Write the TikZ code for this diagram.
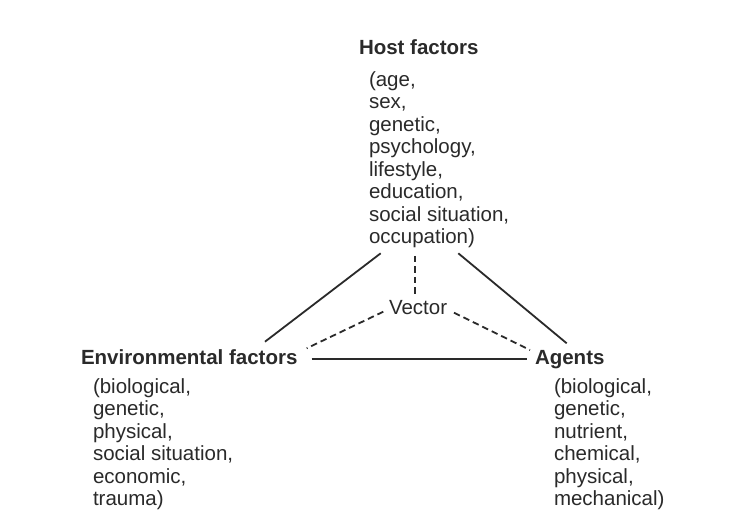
\documentclass[tikz,border=0pt]{standalone}
\usepackage{fontspec}
\setmainfont{Liberation Sans}
\definecolor{inkc}{HTML}{2A2A2A}
\begin{document}
\begin{tikzpicture}[x=1pt,y=-1pt,
  txt/.style={inner sep=0pt, outer sep=0pt, anchor=base west, align=left, text=inkc,
    font=\fontsize{20.5}{22.5}\selectfont},
  ttl/.style={txt, font=\fontsize{20.5}{22.5}\selectfont\bfseries},
  link/.style={draw=inkc, line width=1.8pt},
  dlink/.style={draw=inkc, line width=1.8pt, dash pattern=on 6.5pt off 4pt}]
\useasboundingbox[fill=white] (0,0) rectangle (740,513);
% titles
\node[ttl] (host) at (359,55) {Host factors};
\node[ttl] (env) at (81,365) {Environmental factors};
\node[ttl] (agents) at (535,365) {Agents};
\node[txt] (vector) at (389,315) {Vector};
% lists (anchor = baseline of last line)
\node[txt] (hostlist) at (369,244) {(age,\\sex,\\genetic,\\psychology,\\lifestyle,\\education,\\social situation,\\occupation)};
\node[txt] (envlist) at (93,505.5) {(biological,\\genetic,\\physical,\\social situation,\\economic,\\trauma)};
\node[txt] (aglist) at (554,505.5) {(biological,\\genetic,\\nutrient,\\chemical,\\physical,\\mechanical)};
% connector end points
\coordinate (hL) at (380.7,253.3);
\coordinate (hR) at (458.3,253.3);
\coordinate (hV) at (415,256);
\coordinate (eT) at (265,341.7);
\coordinate (aT) at (566.7,343.3);
\coordinate (vT) at (415,296.7);
\coordinate (vL) at (383.3,311.7);
\coordinate (vR) at (454,312.7);
\coordinate (eD) at (306.7,348.3);
\coordinate (aD) at (530,350);
\coordinate (eH) at (311.7,359);
\coordinate (aH) at (526.7,359);
% connectors
\draw[link] (hL) -- (eT);
\draw[link] (hR) -- (aT);
\draw[dlink] (hV) -- (vT);
\draw[dlink] (vL) -- (eD);
\draw[dlink] (vR) -- (aD);
\draw[link] (eH) -- (aH);
\end{tikzpicture}
\end{document}
